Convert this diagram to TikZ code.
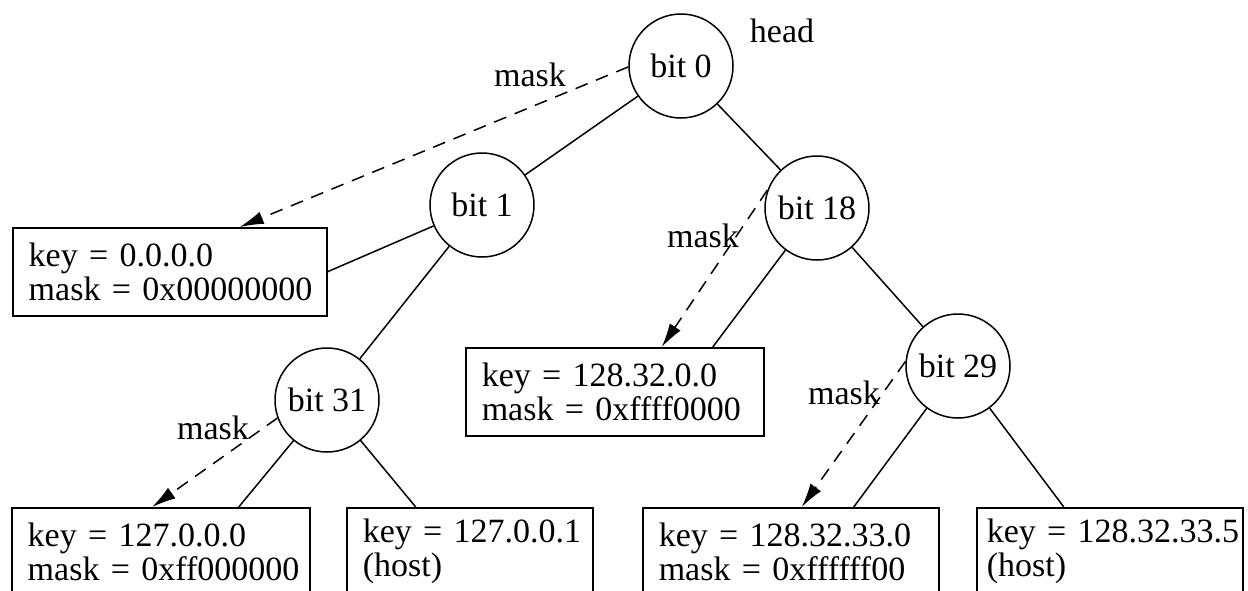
\documentclass[tikz,border=0pt]{standalone}
\usepackage{fontspec}
\setmainfont{Liberation Serif}
\usetikzlibrary{arrows.meta}
\begin{document}
\begin{tikzpicture}[x=0.5pt,y=-0.5pt,
  every node/.style={font=\fontsize{17}{17}\selectfont},
  bitnode/.style={draw, circle, minimum size=52pt, inner sep=0pt, line width=0.75pt},
  keybox/.style={draw, rectangle, anchor=north west, align=left, inner xsep=8pt, inner ysep=0pt, minimum height=44pt, line width=0.75pt},
  link/.style={line width=0.75pt},
  maskarrow/.style={line width=0.75pt, dash pattern=on 6.5pt off 4.5pt, -{Latex[length=12pt,width=6.5pt]}},
  lbl/.style={inner sep=0pt}]
\useasboundingbox (0,0) rectangle (1248,590);
\clip (0,0) rectangle (1248,590);
\fill[white] (0,0) rectangle (1248,590);

% bit nodes
\node[bitnode] (b0) at (681,66) {bit 0};
\node[bitnode] (b1) at (482,205) {bit 1};
\node[bitnode] (b18) at (817,208) {bit 18};
\node[bitnode] (b31) at (327,400) {bit 31};
\node[bitnode] (b29) at (958,366) {bit 29};
\node[lbl] (head) at (782,31) {head};

% key boxes
\node[keybox, text width=141pt] (k0) at (12,227) {key~=~0.0.0.0\\mask~=~0x00000000};
\node[keybox, text width=133pt] (k1) at (465,347) {key~=~128.32.0.0\\mask~=~0xffff0000};
\node[keybox, text width=133pt] (k2) at (11,507) {key~=~127.0.0.0\\mask~=~0xff000000};
\node[keybox, text width=107pt] (k3) at (346,507) {key~=~127.0.0.1\\(host)};
\node[keybox, text width=132pt] (k4) at (642,507) {key~=~128.32.33.0\\mask~=~0xffffff00};
\node[keybox, inner xsep=5pt, text width=123pt] (k5) at (976,507) {key~=~128.32.33.5\\(host)};

% tree links
\draw[link] (b0) -- (b1);
\draw[link] (b0) -- (b18);
\draw[link] (b1) -- (k0.east);
\draw[link] (b1) -- (b31);
\draw[link] (b18) -- ([xshift=49pt]k1.north);
\draw[link] (b18) -- (b29);
\draw[link] (b31) -- ([xshift=39pt]k2.north);
\draw[link] (b31) -- ([xshift=-27pt]k3.north);
\draw[link] (b29) -- ([xshift=31.5pt]k4.north);
\draw[link] (b29) -- ([xshift=-23pt]k5.north);

% mask arrows
\draw[maskarrow] (b0.181) -- ([xshift=35pt]k0.north);
\draw[maskarrow] (b18.160) -- ([xshift=23.5pt]k1.north);
\draw[maskarrow] (b31.200) -- ([xshift=-4.3pt]k2.north);
\draw[maskarrow] (b29.175) -- ([xshift=5.5pt]k4.north);

% mask labels
\node[lbl] (m0) at (530,75) {mask};
\node[lbl] (m18) at (703,236) {mask};
\node[lbl] (m31) at (213,428) {mask};
\node[lbl] (m29) at (844,393) {mask};
\end{tikzpicture}
\end{document}
